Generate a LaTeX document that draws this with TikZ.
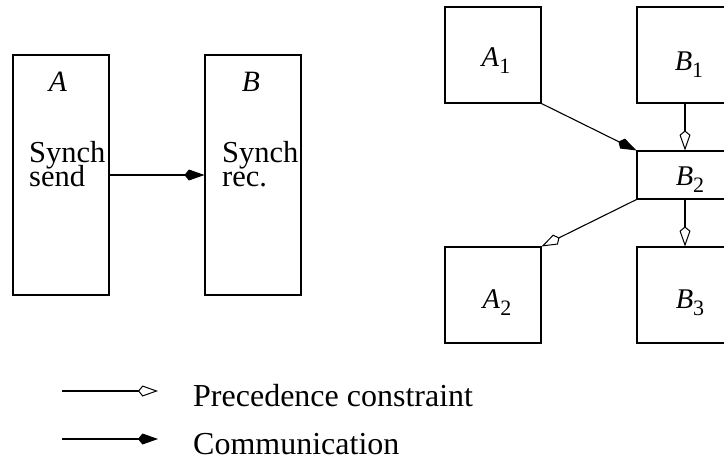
\documentclass[tikz,border=0pt]{standalone}
\usepackage{fontspec}
\setmainfont{Liberation Serif}
\usetikzlibrary{arrows.meta}

% italic name with an upright, lowered index
\newcommand{\procname}[2]{\textit{#1}\raisebox{-7pt}{\fontsize{22}{22}\selectfont #2}}

\tikzset{
  box/.style={draw, line width=1.1pt, inner sep=0pt},
  conn/.style={line width=1.1pt},
  prec/.style={conn, -{Kite[open, length=20pt, width=11pt, inset=4.5pt, line width=1pt, fill=white]}},
  comm/.style={conn, -{Kite[length=20pt, width=11pt, inset=4.5pt]}},
  lefttext/.style={inner sep=0pt, anchor=base west, font=\fontsize{30.5}{24}\selectfont},
  tasklabel/.style={inner sep=0pt, anchor=base, font=\fontsize{29.5}{24}\selectfont\itshape},
  proclabel/.style={inner sep=0pt, anchor=base, font=\fontsize{28.5}{28.5}\selectfont},
  legendtext/.style={inner sep=0pt, anchor=base west, font=\fontsize{32}{32}\selectfont}
}

\begin{document}
\begin{tikzpicture}[x=1pt, y=-1pt]
\useasboundingbox (0,0) rectangle (724,456);
\clip (0,0) rectangle (724,456);

% synchronous send / receive
\node[box, minimum width=96pt, minimum height=240pt] (A) at (61,175) {};
\node[box, minimum width=96pt, minimum height=240pt] (B) at (253,175) {};
\node[tasklabel] (Alabel) at (58,91) {A};
\node[tasklabel] (Blabel) at (251,91) {B};
\node[lefttext] (Asynch) at (29,162.5) {Synch};
\node[lefttext] (Asend) at (29,186.5) {send};
\node[lefttext] (Bsynch) at (222,162.5) {Synch};
\node[lefttext] (Brec) at (222,186.5) {rec.};
\draw[comm] (A) -- (B);

% split task graph
\node[box, minimum width=96pt, minimum height=96pt] (A1) at (493,55) {};
\node[box, minimum width=96pt, minimum height=96pt] (B1) at (685,55) {};
\node[box, minimum width=96pt, minimum height=48pt] (B2) at (685,175) {};
\node[box, minimum width=96pt, minimum height=96pt] (A2) at (493,295) {};
\node[box, minimum width=96pt, minimum height=96pt] (B3) at (685,295) {};
\node[proclabel] (A1label) at (496,66) {\procname{A}{1}};
\node[proclabel] (B1label) at (689,70.5) {\procname{B}{1}};
\node[proclabel] (B2label) at (690,185.5) {\procname{B}{2}};
\node[proclabel] (A2label) at (497,308) {\procname{A}{2}};
\node[proclabel] (B3label) at (690,308) {\procname{B}{3}};

\draw[comm] (A1.south east) -- (B2.north west);
\draw[prec] (B1.south) -- (B2.north);
\draw[prec] (B2.south west) -- (A2.north east);
\draw[prec] (B2.south) -- (B3.north);

% legend
\coordinate (precstart) at (62,391);
\coordinate (precend) at (158,391);
\coordinate (commstart) at (62,439);
\coordinate (commend) at (158,439);
\draw[prec] (precstart) -- (precend);
\draw[comm] (commstart) -- (commend);
\node[legendtext] (preclabel) at (193,406.5) {Precedence constraint};
\node[legendtext] (commlabel) at (193,454) {Communication};
\end{tikzpicture}
\end{document}
